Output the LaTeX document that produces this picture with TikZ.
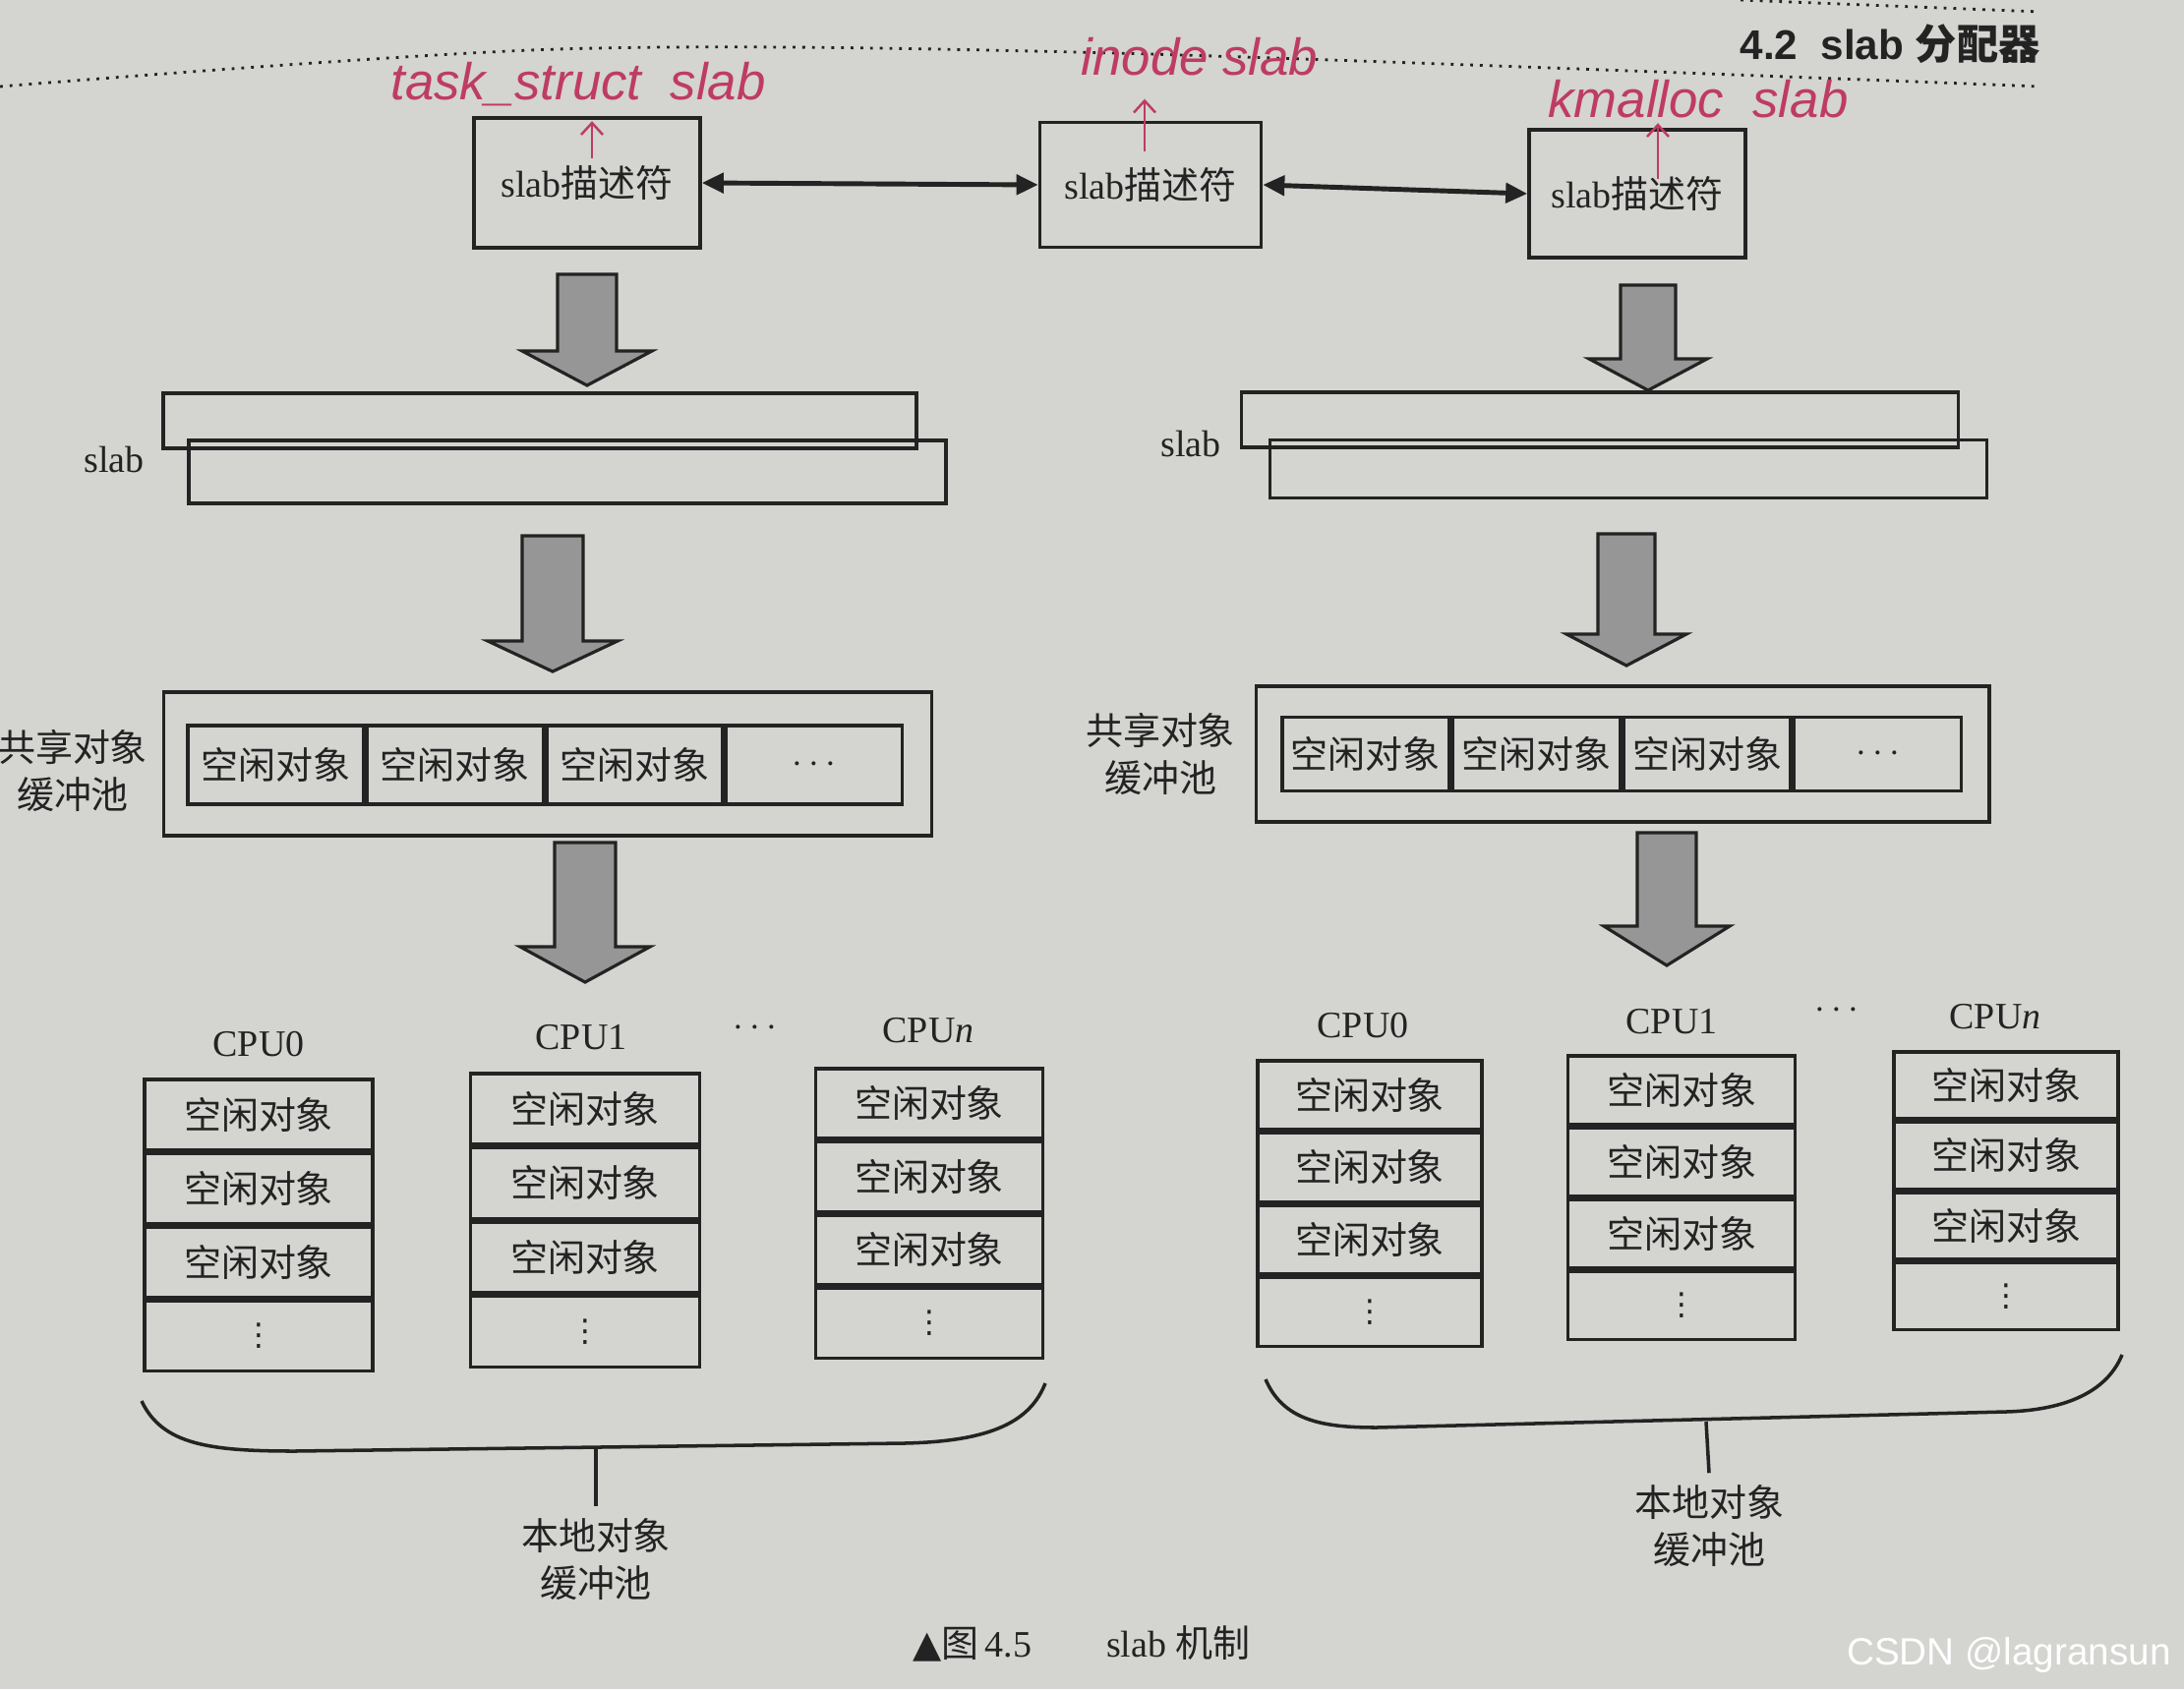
\documentclass[tikz,border=0pt]{standalone}
\usepackage{fontspec}
\setmainfont{Liberation Serif}
\newfontfamily\cjk{Noto Sans CJK SC}
\newfontfamily\hsans{Liberation Sans}
\newfontfamily\dvs{DejaVu Sans}
\usetikzlibrary{arrows.meta,calc}
\definecolor{paper}{RGB}{212,212,209}
\definecolor{ink}{RGB}{35,35,35}
\definecolor{pen}{RGB}{190,60,100}
\definecolor{arrowgray}{RGB}{150,150,150}

\newcommand{\bigarrow}[6]{% cx, ytop, ybase, ytip, shaft half, head half
  \draw[blockarrow] (#1-#5,#2) -- (#1+#5,#2) -- (#1+#5,#3) -- (#1+#6,#3) -- (#1,#4) -- (#1-#6,#3) -- (#1-#5,#3) -- cycle;}

\newcommand{\cpucol}[5]{% name, cx, ytop, width, height
  \node[cell, minimum width=#4, minimum height=#5, anchor=north] (#1a) at (#2,#3) {空闲对象};
  \node[cell, minimum width=#4, minimum height=#5, anchor=north] (#1b) at (#1a.south) {空闲对象};
  \node[cell, minimum width=#4, minimum height=#5, anchor=north] (#1c) at (#1b.south) {空闲对象};
  \node[cell, minimum width=#4, minimum height=#5, anchor=north] (#1d) at (#1c.south) {{\dvs\fontsize{9}{10}\selectfont ⋮}};
}

\begin{document}
\begin{tikzpicture}[x=0.01cm,y=-0.01cm,
  every node/.style={text=ink, font=\fontsize{10.8}{13.5}\selectfont},
  cj/.style={font=\fontsize{10.8}{13.5}\selectfont\cjk},
  box/.style={draw=ink, line width=1pt, inner sep=0pt},
  cell/.style={draw=ink, line width=1pt, inner sep=0pt, font=\fontsize{10.8}{13.5}\selectfont\cjk},
  line/.style={draw=ink, line width=1pt},
  dbl/.style={draw=ink, line width=1.4pt, {Triangle[length=0.22cm,width=0.2cm]}-{Triangle[length=0.22cm,width=0.2cm]}},
  blockarrow/.style={draw=ink, line width=0.9pt, fill=arrowgray, line join=miter},
  redarrow/.style={draw=pen, line width=0.7pt, -{Straight Barb[length=0.12cm,width=0.22cm]}},
  note/.style={text=pen, font=\fontsize{15}{18}\selectfont\hsans\itshape},
]
\fill[paper] (0,0) rectangle (2221,1718);
\useasboundingbox (0,0) rectangle (2221,1718);

% page header
\draw[ink, line width=0.8pt, dotted] plot[smooth] coordinates {(0,88) (567,50) (1133,54) (2075,88)};
\draw[ink, line width=0.8pt, dotted] (1770,0) -- (2075,12);
\node[font=\fontsize{12}{14}\selectfont\hsans\bfseries] (hdr) at (1922,45) {4.2\ \ slab {\cjk 分配器}};

% slab descriptors
\node[box, minimum width=2.30cm, minimum height=1.32cm] (b1) at (597,186) {slab{\cjk 描述符}};
\node[box, minimum width=2.25cm, minimum height=1.27cm] (b2) at (1170,188) {slab{\cjk 描述符}};
\node[box, minimum width=2.20cm, minimum height=1.30cm] (b3) at (1665,197) {slab{\cjk 描述符}};
\draw[dbl] (b1.east) -- (b2.west);
\draw[dbl] (b2.east) -- (b3.west);

% handwritten notes
\node[note] (n1) at (588,86) {task\_struct\ \ slab};
\node[note] (n2) at (1220,58) {inode\ slab};
\node[note] (n3) at (1727,101) {kmalloc\ \ slab};
\draw[redarrow] ($(b1.north)+(5,43)$) -- ($(b1.north)+(5,5)$);
\draw[redarrow] ($(b2.north)+(-6,31)$) -- ($(b2.north)+(-6,-22)$);
\draw[redarrow] ($(b3.north)+(21,52)$) -- ($(b3.north)+(21,-5)$);

% block arrows (left column)
\bigarrow{597}{279}{357}{392}{30}{66}
\bigarrow{562}{545}{652}{683}{31}{66}
\bigarrow{595}{857}{963}{999}{31}{66}
% block arrows (right column)
\bigarrow{1676}{290}{365}{397}{28}{60}
\bigarrow{1654}{543}{645}{677}{29}{61}
\bigarrow{1695}{847}{942}{982}{30}{64}

% slabs
\node[box, minimum width=7.66cm, minimum height=0.56cm] (ls1) at (549,428) {};
\node[box, minimum width=7.70cm, minimum height=0.64cm] (ls2) at (577,480) {};
\node (lsl) at (116,468) {slab};
\node[box, minimum width=7.29cm, minimum height=0.56cm] (rs1) at (1627,427) {};
\node[box, minimum width=7.29cm, minimum height=0.59cm] (rs2) at (1656,477) {};
\node (rsl) at (1211,452) {slab};

% shared object pools
\node[box, minimum width=7.81cm, minimum height=1.46cm] (lpool) at (557,777) {};
\node[cell, minimum width=1.79cm, minimum height=0.80cm, anchor=west] (lp1) at (189,778) {空闲对象};
\node[cell, minimum width=1.79cm, minimum height=0.80cm, anchor=west] (lp2) at (lp1.east) {空闲对象};
\node[cell, minimum width=1.79cm, minimum height=0.80cm, anchor=west] (lp3) at (lp2.east) {空闲对象};
\node[cell, minimum width=1.79cm, minimum height=0.80cm, anchor=west] (lp4) at (lp3.east) {$\cdots$};
\node[cj, align=center] (lpl) at (74,784) {共享对象\\缓冲池};

\node[box, minimum width=7.45cm, minimum height=1.38cm] (rpool) at (1650,767) {};
\node[cell, minimum width=1.70cm, minimum height=0.75cm, anchor=west] (rp1) at (1302,767) {空闲对象};
\node[cell, minimum width=1.70cm, minimum height=0.75cm, anchor=west] (rp2) at (rp1.east) {空闲对象};
\node[cell, minimum width=1.70cm, minimum height=0.75cm, anchor=west] (rp3) at (rp2.east) {空闲对象};
\node[cell, minimum width=1.70cm, minimum height=0.75cm, anchor=west] (rp4) at (rp3.east) {$\cdots$};
\node[cj, align=center] (rpl) at (1180,767) {共享对象\\缓冲池};

% per-CPU caches (left)
\node (lc0) at (263,1062) {CPU0};
\node (lc1) at (591,1055) {CPU1};
\node (lcd) at (768,1046) {$\cdots$};
\node (lcn) at (944,1048) {CPU\textit{n}};
\cpucol{la}{263}{1096}{2.32cm}{0.715cm}
\cpucol{lb}{595}{1090}{2.33cm}{0.72cm}
\cpucol{ln}{945}{1085}{2.31cm}{0.71cm}

% per-CPU caches (right)
\node (rc0) at (1386,1043) {CPU0};
\node (rc1) at (1700,1039) {CPU1};
\node (rcd) at (1868,1028) {$\cdots$};
\node (rcn) at (2029,1034) {CPU\textit{n}};
\cpucol{ra}{1393}{1077}{2.28cm}{0.70cm}
\cpucol{rb}{1710}{1072}{2.31cm}{0.695cm}
\cpucol{rn}{2040}{1068}{2.28cm}{0.68cm}

% local pool braces
\node[cj, align=center] (lloc) at (606,1586) {本地对象\\缓冲池};
\coordinate (lstem) at (606,1472);
\draw[line] (144,1425) .. controls (165,1470) and (215,1476) .. (300,1476) -- (920,1468) .. controls (1010,1466) and (1048,1445) .. (1063,1407);
\draw[line] (lstem) -- (lloc.north);

\node[cj, align=center] (rloc) at (1738,1552) {本地对象\\缓冲池};
\coordinate (rstem) at (1735,1446);
\draw[line] (1287,1403) .. controls (1305,1445) and (1345,1452) .. (1400,1452) -- (2040,1436) .. controls (2110,1434) and (2145,1410) .. (2158,1378);
\draw[line] (rstem) -- (rloc.north);

% caption and watermark
\node (cap) at (1100,1672) {{\dvs ▲}{\cjk 图}\,4.5\qquad slab {\cjk 机制}};
\node[text=white, font=\fontsize{11}{13}\selectfont\hsans] (wm) at (2043,1683) {CSDN @lagransun};
\end{tikzpicture}
\end{document}
